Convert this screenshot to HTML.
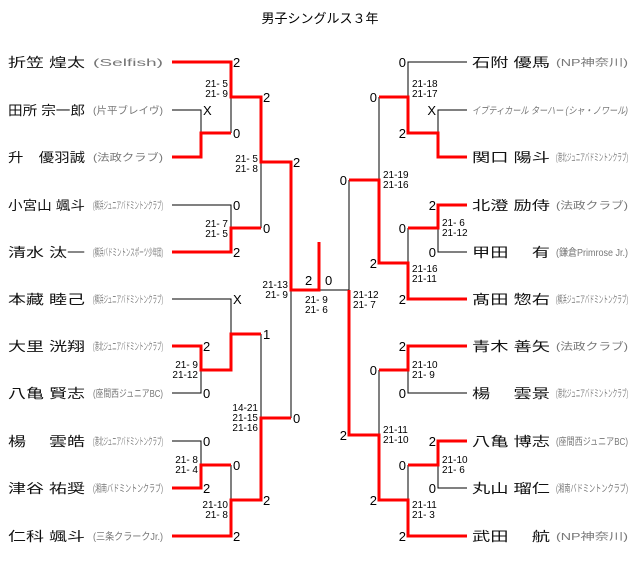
<!DOCTYPE html>
<html><head><meta charset="utf-8"><style>
html,body{margin:0;padding:0;background:#fff;}
svg{display:block;}
text{font-family:"Liberation Sans","Noto Sans CJK JP",sans-serif;}
.n{font-size:13px;fill:#111;}
.c{font-size:10px;fill:#777;}
.d{font-size:13px;fill:#000;}
.s{font-size:10px;fill:#000;}
</style></head><body>
<svg width="640" height="585" viewBox="0 0 640 585" xmlns="http://www.w3.org/2000/svg">
<text x="320" y="23" text-anchor="middle" style="font-size:13px" fill="#000">男子シングルス３年</text>
<g fill="none" stroke="#000" stroke-width="1">
<path d="M172 110H201V133"/>
<path d="M231 97V133"/>
<path d="M172 205H231V228"/>
<path d="M261 162V228"/>
<path d="M172 299H231V334"/>
<path d="M172 393H201V370"/>
<path d="M261 334V418"/>
<path d="M172 441H201V465"/>
<path d="M231 465V500"/>
<path d="M291 290V418"/>
<path d="M319 290H349"/>
<path d="M349 180V290"/>
<path d="M467 62H408V97"/>
<path d="M467 110H438V133"/>
<path d="M438 228V252H467"/>
<path d="M408 228V263"/>
<path d="M379 97V180"/>
<path d="M467 393H408V370"/>
<path d="M467 488H438V465"/>
<path d="M408 465V500"/>
<path d="M379 370V435"/>
</g>
<g fill="none" stroke="#f00" stroke-width="3">
<path d="M172 62H231V97H261V162H291V290H319V242"/>
<path d="M172 157H201V133H231"/>
<path d="M172 252H231V228H261"/>
<path d="M172 346H201V370H231V334H261"/>
<path d="M172 488H201V465H231"/>
<path d="M172 536H231V500H261V418H291"/>
<path d="M467 157H438V133H408V97H379"/>
<path d="M349 180H379V263H408V299H467"/>
<path d="M467 205H438V228H408"/>
<path d="M349 290V435H379V500H408V536H467"/>
<path d="M467 346H408V370H379"/>
<path d="M467 441H438V465H408"/>
</g>
<g class="n">
<text x="8" y="67" textLength="77" lengthAdjust="spacingAndGlyphs">折笠 煌太</text>
<text x="8" y="115" textLength="77" lengthAdjust="spacingAndGlyphs">田所 宗一郎</text>
<text x="8" y="162" textLength="77" lengthAdjust="spacingAndGlyphs">升　優羽誠</text>
<text x="8" y="210" textLength="77" lengthAdjust="spacingAndGlyphs">小宮山 颯斗</text>
<text x="8" y="257" textLength="77" lengthAdjust="spacingAndGlyphs">清水 汰一</text>
<text x="8" y="304" textLength="77" lengthAdjust="spacingAndGlyphs">本藏 睦己</text>
<text x="8" y="351" textLength="77" lengthAdjust="spacingAndGlyphs">大里 洸翔</text>
<text x="8" y="398" textLength="77" lengthAdjust="spacingAndGlyphs">八亀 賢志</text>
<text x="8" y="446" textLength="77" lengthAdjust="spacingAndGlyphs">楊　 雲皓</text>
<text x="8" y="493" textLength="77" lengthAdjust="spacingAndGlyphs">津谷 祐奨</text>
<text x="8" y="541" textLength="77" lengthAdjust="spacingAndGlyphs">仁科 颯斗</text>
</g>
<g class="c">
<text x="93" y="66" textLength="70" lengthAdjust="spacingAndGlyphs">(Selfish)</text>
<text x="93" y="114" textLength="70" lengthAdjust="spacingAndGlyphs">(片平ブレイヴ)</text>
<text x="93" y="161" textLength="70" lengthAdjust="spacingAndGlyphs">(法政クラブ)</text>
<text x="93" y="209" textLength="70" lengthAdjust="spacingAndGlyphs">(横浜ジュニアバドミントンクラブ)</text>
<text x="93" y="256" textLength="70" lengthAdjust="spacingAndGlyphs">(横浜バドミントンスポーツ少年団)</text>
<text x="93" y="303" textLength="70" lengthAdjust="spacingAndGlyphs">(横浜ジュニアバドミントンクラブ)</text>
<text x="93" y="350" textLength="70" lengthAdjust="spacingAndGlyphs">(港北ジュニアバドミントンクラブ)</text>
<text x="93" y="397" textLength="70" lengthAdjust="spacingAndGlyphs">(座間西ジュニアBC)</text>
<text x="93" y="445" textLength="70" lengthAdjust="spacingAndGlyphs">(港北ジュニアバドミントンクラブ)</text>
<text x="93" y="492" textLength="70" lengthAdjust="spacingAndGlyphs">(湘南バドミントンクラブ)</text>
<text x="93" y="540" textLength="70" lengthAdjust="spacingAndGlyphs">(三条クラークJr.)</text>
</g>
<g class="n">
<text x="472" y="67" textLength="78" lengthAdjust="spacingAndGlyphs">石附 優馬</text>
<text x="472" y="162" textLength="78" lengthAdjust="spacingAndGlyphs">関口 陽斗</text>
<text x="472" y="210" textLength="78" lengthAdjust="spacingAndGlyphs">北澄 励侍</text>
<text x="472" y="257" textLength="78" lengthAdjust="spacingAndGlyphs">甲田　 有</text>
<text x="472" y="304" textLength="78" lengthAdjust="spacingAndGlyphs">髙田 惣右</text>
<text x="472" y="351" textLength="78" lengthAdjust="spacingAndGlyphs">青木 善矢</text>
<text x="472" y="398" textLength="78" lengthAdjust="spacingAndGlyphs">楊　 雲景</text>
<text x="472" y="446" textLength="78" lengthAdjust="spacingAndGlyphs">八亀 博志</text>
<text x="472" y="493" textLength="78" lengthAdjust="spacingAndGlyphs">丸山 瑠仁</text>
<text x="472" y="541" textLength="78" lengthAdjust="spacingAndGlyphs">武田　 航</text>
</g>
<text x="472" y="114" textLength="156" lengthAdjust="spacingAndGlyphs" class="c" style="font-style:italic">イブティカール ターハー (シャ・ノワール)</text>
<g class="c">
<text x="556" y="66" textLength="72" lengthAdjust="spacingAndGlyphs">(NP神奈川)</text>
<text x="556" y="161" textLength="72" lengthAdjust="spacingAndGlyphs">(港北ジュニアバドミントンクラブ)</text>
<text x="556" y="209" textLength="72" lengthAdjust="spacingAndGlyphs">(法政クラブ)</text>
<text x="556" y="256" textLength="72" lengthAdjust="spacingAndGlyphs">(鎌倉Primrose Jr.)</text>
<text x="556" y="303" textLength="72" lengthAdjust="spacingAndGlyphs">(横浜ジュニアバドミントンクラブ)</text>
<text x="556" y="350" textLength="72" lengthAdjust="spacingAndGlyphs">(法政クラブ)</text>
<text x="556" y="397" textLength="72" lengthAdjust="spacingAndGlyphs">(港北ジュニアバドミントンクラブ)</text>
<text x="556" y="445" textLength="72" lengthAdjust="spacingAndGlyphs">(座間西ジュニアBC)</text>
<text x="556" y="492" textLength="72" lengthAdjust="spacingAndGlyphs">(湘南バドミントンクラブ)</text>
<text x="556" y="540" textLength="72" lengthAdjust="spacingAndGlyphs">(NP神奈川)</text>
</g>
<g class="d">
<text x="233" y="67">2</text>
<text x="203" y="115">X</text>
<text x="233" y="138">0</text>
<text x="263" y="102">2</text>
<text x="233" y="210">0</text>
<text x="233" y="257">2</text>
<text x="263" y="233">0</text>
<text x="293" y="167">2</text>
<text x="233" y="304">X</text>
<text x="203" y="351">2</text>
<text x="203" y="398">0</text>
<text x="263" y="339">1</text>
<text x="203" y="446">0</text>
<text x="203" y="493">2</text>
<text x="233" y="470">0</text>
<text x="233" y="541">2</text>
<text x="263" y="505">2</text>
<text x="293" y="423">0</text>
<text x="305" y="285">2</text>
<text x="325" y="285">0</text>
</g>
<g class="d" text-anchor="end">
<text x="406" y="67">0</text>
<text x="436" y="115">X</text>
<text x="406" y="138">2</text>
<text x="377" y="102">0</text>
<text x="436" y="210">2</text>
<text x="436" y="257">0</text>
<text x="406" y="233">0</text>
<text x="406" y="304">2</text>
<text x="377" y="268">2</text>
<text x="347" y="185">0</text>
<text x="406" y="351">2</text>
<text x="406" y="398">0</text>
<text x="377" y="375">0</text>
<text x="436" y="446">2</text>
<text x="436" y="493">0</text>
<text x="406" y="470">0</text>
<text x="406" y="541">2</text>
<text x="377" y="505">2</text>
<text x="347" y="440">2</text>
</g>
<g class="s" text-anchor="end">
<text x="228" y="87" xml:space="preserve">21- 5</text><text x="228" y="97" xml:space="preserve">21- 9</text>
<text x="258" y="162" xml:space="preserve">21- 5</text><text x="258" y="172" xml:space="preserve">21- 8</text>
<text x="228" y="227" xml:space="preserve">21- 7</text><text x="228" y="237" xml:space="preserve">21- 5</text>
<text x="288" y="288" xml:space="preserve">21-13</text><text x="288" y="298" xml:space="preserve">21- 9</text>
<text x="198" y="368" xml:space="preserve">21- 9</text><text x="198" y="378" xml:space="preserve">21-12</text>
<text x="258" y="411" xml:space="preserve">14-21</text><text x="258" y="421" xml:space="preserve">21-15</text><text x="258" y="431" xml:space="preserve">21-16</text>
<text x="198" y="463" xml:space="preserve">21- 8</text><text x="198" y="473" xml:space="preserve">21- 4</text>
<text x="228" y="508" xml:space="preserve">21-10</text><text x="228" y="518" xml:space="preserve">21- 8</text>
</g>
<g class="s">
<text x="305" y="303" xml:space="preserve">21- 9</text><text x="305" y="313" xml:space="preserve">21- 6</text>
<text x="353" y="298" xml:space="preserve">21-12</text><text x="353" y="308" xml:space="preserve">21- 7</text>
<text x="412" y="87" xml:space="preserve">21-18</text><text x="412" y="97" xml:space="preserve">21-17</text>
<text x="383" y="178" xml:space="preserve">21-19</text><text x="383" y="188" xml:space="preserve">21-16</text>
<text x="442" y="226" xml:space="preserve">21- 6</text><text x="442" y="236" xml:space="preserve">21-12</text>
<text x="412" y="272" xml:space="preserve">21-16</text><text x="412" y="282" xml:space="preserve">21-11</text>
<text x="412" y="368" xml:space="preserve">21-10</text><text x="412" y="378" xml:space="preserve">21- 9</text>
<text x="383" y="433" xml:space="preserve">21-11</text><text x="383" y="443" xml:space="preserve">21-10</text>
<text x="442" y="463" xml:space="preserve">21-10</text><text x="442" y="473" xml:space="preserve">21- 6</text>
<text x="412" y="508" xml:space="preserve">21-11</text><text x="412" y="518" xml:space="preserve">21- 3</text>
</g>
</svg>
</body></html>
